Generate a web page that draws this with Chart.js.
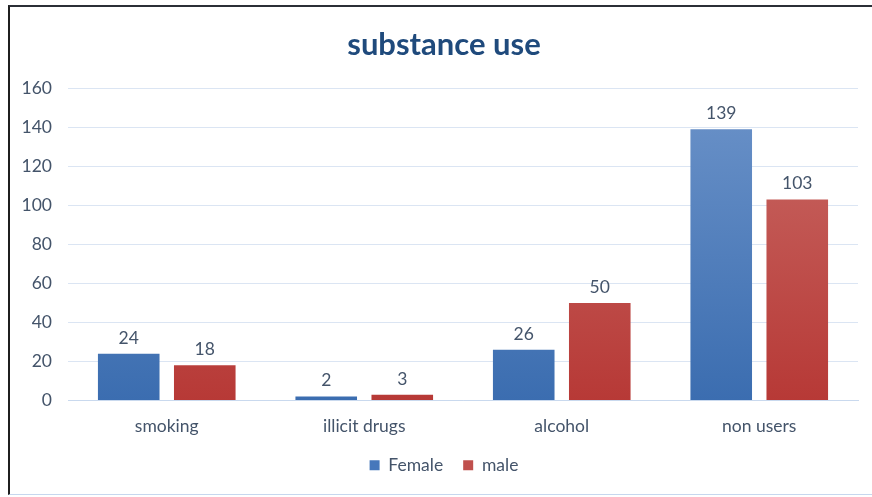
<!DOCTYPE html>
<html>
<head>
<meta charset="utf-8">
<script src="https://cdn.jsdelivr.net/npm/chart.js@4.4.1/dist/chart.umd.min.js"></script>
<style>
    html, body { margin: 0; padding: 0; background: #fff; }
    #frame {
        position: absolute;
        left: 8px; top: 5px;
        width: 864px; height: 490px;
        border-top: 2px solid #2b2f36;
        border-left: 2px solid #1f1f1f;
        border-bottom: 1px solid #c6d7ee;
        box-sizing: border-box;
    }
    #wrap { position: absolute; left: 0; top: 0; width: 872px; height: 497px; }
</style>
</head>
<body>
<div id="frame"></div>
<div id="wrap"><canvas id="chart"></canvas></div>
<script>
// substance use by gender
const categories = ['smoking', 'illicit drugs', 'alcohol', 'non users'];
const female = [24, 2, 26, 139];
const male = [18, 3, 50, 103];
const yTicks = [0, 20, 40, 60, 80, 100, 120, 140, 160];

const FONT = 'Lato, "Open Sans", sans-serif';
const TEXT = '#44546a';
const GRID = '#dbe5f3';

const PALETTE = {
    female: { top: '#6c93c9', bottom: '#3b6db0', solid: '#4677bb' },
    male: { top: '#c96b67', bottom: '#b73936', solid: '#c0504d' }
};

function barGradient(key) {
    return (ctx) => {
        const area = ctx.chart.chartArea;
        if (!area) return PALETTE[key].solid;
        const g = ctx.chart.ctx.createLinearGradient(0, area.top, 0, area.bottom);
        g.addColorStop(0, PALETTE[key].top);
        g.addColorStop(1, PALETTE[key].bottom);
        return g;
    };
}

// value labels over each bar
const valueLabels = {
    id: 'valueLabels',
    afterDatasetsDraw(chart) {
        const { ctx } = chart;
        ctx.save();
        ctx.font = '17.5px ' + FONT;
        ctx.fillStyle = TEXT;
        ctx.textAlign = 'center';
        ctx.textBaseline = 'bottom';
        chart.data.datasets.forEach((ds, i) => {
            chart.getDatasetMeta(i).data.forEach((bar, j) => {
                ctx.fillText(String(ds.data[j]), bar.x, bar.y - 7);
            });
        });
        ctx.restore();
    }
};

new Chart(document.getElementById('chart'), {
    type: 'bar',
    data: {
        labels: categories,
        datasets: [
            {
                label: 'Female',
                data: female,
                backgroundColor: barGradient('female'),
                borderWidth: 0,
                barPercentage: 0.81,
                categoryPercentage: 0.77
            },
            {
                label: 'male',
                data: male,
                backgroundColor: barGradient('male'),
                borderWidth: 0,
                barPercentage: 0.81,
                categoryPercentage: 0.77
            }
        ]
    },
    options: {
        responsive: true,
        maintainAspectRatio: false,
        animation: false,
        layout: { padding: { left: 16, right: 0, top: 0, bottom: 13 } },
        plugins: {
            title: {
                display: true,
                text: 'substance use',
                color: '#1f4a7c',
                font: { family: FONT, size: 31, weight: 'bold' },
                padding: { top: 26, bottom: 25 }
            },
            legend: {
                position: 'bottom',
                labels: {
                    color: TEXT,
                    font: { family: FONT, size: 17.5 },
                    boxWidth: 10,
                    boxHeight: 10,
                    padding: 20,
                    generateLabels: (chart) => chart.data.datasets.map((ds, i) => ({
                        text: ds.label,
                        fillStyle: i === 0 ? PALETTE.female.solid : PALETTE.male.solid,
                        strokeStyle: 'transparent',
                        lineWidth: 0,
                        fontColor: TEXT,
                        datasetIndex: i
                    }))
                }
            },
            tooltip: { enabled: false }
        },
        scales: {
            x: {
                afterFit: (scale) => { scale.height = 36; },
                grid: { display: false, drawTicks: false },
                border: { color: '#c9d9ee', width: 1 },
                ticks: { color: TEXT, font: { family: FONT, size: 17.5 }, padding: 15 }
            },
            y: {
                min: 0,
                max: 160,
                afterBuildTicks: (scale) => {
                    scale.ticks = yTicks.map((v) => ({ value: v }));
                },
                afterFit: (scale) => { scale.width = 52; },
                grid: { color: GRID, drawTicks: false },
                border: { display: false },
                ticks: { color: TEXT, font: { family: FONT, size: 17.5 }, padding: 16 }
            },
            // empty spacer on the right so the plot ends where the reference does
            spacer: {
                position: 'right',
                afterFit: (scale) => { scale.width = 14; },
                grid: { display: false, drawTicks: false },
                border: { display: false },
                ticks: { display: false }
            }
        }
    },
    plugins: [valueLabels]
});
</script>
</body>
</html>
